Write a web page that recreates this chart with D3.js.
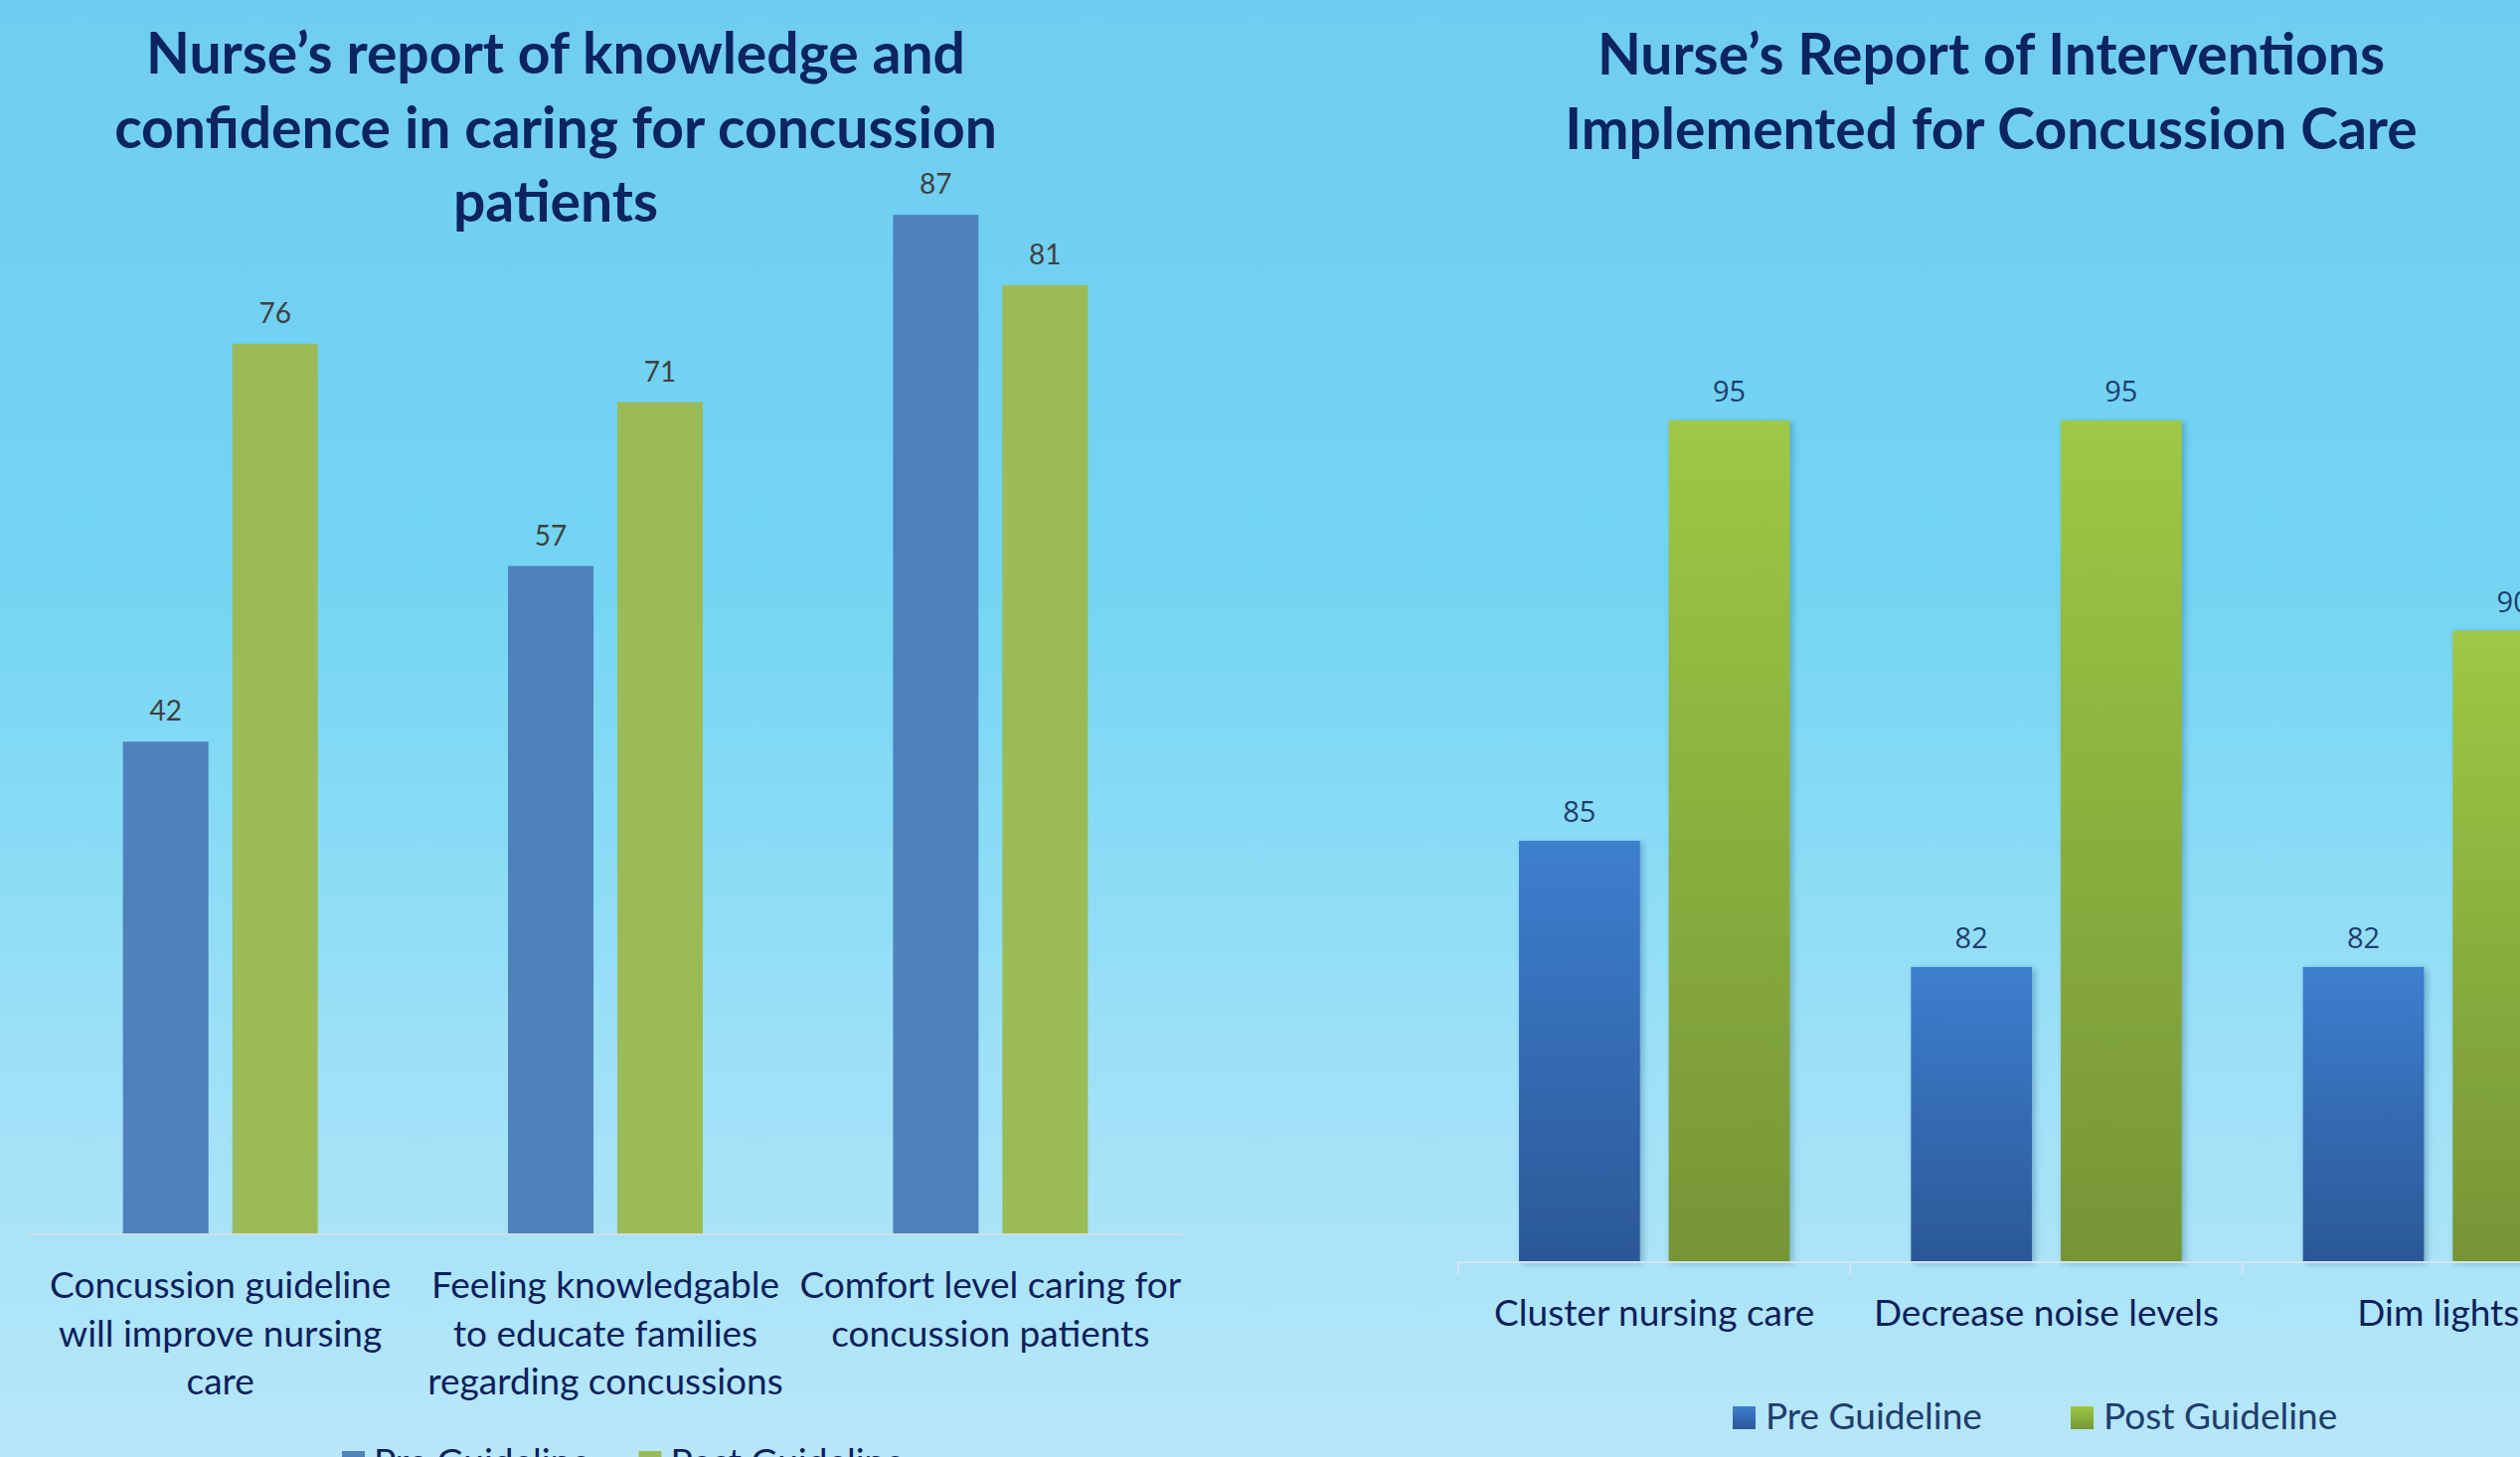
<!DOCTYPE html>
<html>
<head>
<meta charset="utf-8">
<script src="https://cdn.jsdelivr.net/npm/d3@7"></script>
<style>
  body { margin: 0; overflow: hidden; }
  svg { display: block; }
</style>
</head>
<body>
<div id="chart"></div>
<script>
var width = 2535, height = 1466;

// series
var seriesNames = ["Pre Guideline", "Post Guideline"];

// left chart: knowledge and confidence
var knowTitle = ["Nurse\u2019s report of knowledge and", "confidence in caring for concussion", "patients"];
var knowCats = ["Concussion guideline will improve nursing care",
                "Feeling knowledgable to educate families regarding concussions",
                "Comfort level caring for concussion patients"];
var knowCatLines = [["Concussion guideline", "will improve nursing", "care"],
                    ["Feeling knowledgable", "to educate families", "regarding concussions"],
                    ["Comfort level caring for", "concussion patients"]];
var knowPre = [42, 57, 87];
var knowPost = [76, 71, 81];

// right chart: interventions
var intTitle = ["Nurse\u2019s Report of Interventions", "Implemented for Concussion Care"];
var intCats = ["Cluster nursing care", "Decrease noise levels", "Dim lights"];
var intPre = [85, 82, 82];
var intPost = [95, 95, 90];

var svg = d3.select("#chart").append("svg")
  .attr("width", width)
  .attr("height", height);

var defs = svg.append("defs");

// sky background
var bg = defs.append("linearGradient").attr("id", "bg")
  .attr("x1", 0).attr("y1", 0).attr("x2", 0).attr("y2", 1);
bg.append("stop").attr("offset", "0%").attr("stop-color", "#70cdf1");
bg.append("stop").attr("offset", "40%").attr("stop-color", "#73d5f3");
bg.append("stop").attr("offset", "55%").attr("stop-color", "#86dbf5");
bg.append("stop").attr("offset", "75%").attr("stop-color", "#a0e1f7");
bg.append("stop").attr("offset", "100%").attr("stop-color", "#b7e7f8");

var gPre = defs.append("linearGradient").attr("id", "gPre")
  .attr("x1", 0).attr("y1", 0).attr("x2", 0).attr("y2", 1);
gPre.append("stop").attr("offset", "0%").attr("stop-color", "#3d7fcf");
gPre.append("stop").attr("offset", "100%").attr("stop-color", "#2b5896");

var gPost = defs.append("linearGradient").attr("id", "gPost")
  .attr("x1", 0).attr("y1", 0).attr("x2", 0).attr("y2", 1);
gPost.append("stop").attr("offset", "0%").attr("stop-color", "#9ec845");
gPost.append("stop").attr("offset", "100%").attr("stop-color", "#769536");

var shadow = defs.append("filter").attr("id", "shadow")
  .attr("x", "-10%").attr("y", "-10%").attr("width", "130%").attr("height", "130%");
shadow.append("feDropShadow")
  .attr("dx", 3).attr("dy", 2).attr("stdDeviation", 3)
  .attr("flood-color", "#1a4a70").attr("flood-opacity", 0.35);

svg.append("rect")
  .attr("width", width)
  .attr("height", height)
  .attr("fill", "url(#bg)");

var titleFont = "Lato, 'Open Sans', sans-serif";

// ---------- left chart ----------
var left = svg.append("g");

var x0L = d3.scaleBand().domain(knowCats).range([28, 1190]);
var x1L = d3.scaleBand().domain(seriesNames).range([0, x0L.bandwidth()])
  .paddingInner(0.218).paddingOuter(0.87);
var yL = d3.scaleLinear().domain([0, 100]).range([1241, 63]);

left.selectAll(".ttl").data(knowTitle).enter().append("text")
  .attr("x", 559)
  .attr("y", function(d, i) { return 74 + i * 74.5; })
  .attr("text-anchor", "middle")
  .style("font-family", titleFont)
  .style("font-weight", 700)
  .style("font-size", "57px")
  .attr("fill", "#0c2460")
  .text(function(d) { return d; });

var groupsL = left.selectAll(".grp").data(knowCats).enter().append("g")
  .attr("transform", function(d) { return "translate(" + x0L(d) + ",0)"; });

groupsL.each(function(c, i) {
  var vals = [knowPre[i], knowPost[i]];
  var g = d3.select(this);
  g.selectAll("rect").data(seriesNames).enter().append("rect")
    .attr("x", function(s) { return x1L(s); })
    .attr("y", function(s, j) { return yL(vals[j]); })
    .attr("width", x1L.bandwidth())
    .attr("height", function(s, j) { return yL(0) - yL(vals[j]); })
    .attr("fill", function(s, j) { return j == 0 ? "#4f81bd" : "#9bbb59"; });
  g.selectAll(".val").data(seriesNames).enter().append("text")
    .attr("x", function(s) { return x1L(s) + x1L.bandwidth() / 2; })
    .attr("y", function(s, j) { return yL(vals[j]) - 21; })
    .attr("text-anchor", "middle")
    .style("font-family", titleFont)
    .style("font-size", "28px")
    .attr("fill", "#404040")
    .text(function(s, j) { return vals[j]; });
  g.selectAll(".cat").data(knowCatLines[i]).enter().append("text")
    .attr("x", x0L.bandwidth() / 2)
    .attr("y", function(d, k) { return 1306 + k * 48.5; })
    .attr("text-anchor", "middle")
    .style("font-family", titleFont)
    .style("font-size", "37px")
    .attr("fill", "#0d1f5c")
    .text(function(d) { return d; });
});

left.append("line")
  .attr("x1", x0L.range()[0]).attr("x2", x0L.range()[1])
  .attr("y1", yL(0) + 1).attr("y2", yL(0) + 1)
  .attr("stroke", "#d3dde5")
  .attr("stroke-width", 2);

// left legend (runs off the bottom edge, as in the original)
var legL = left.selectAll(".leg").data(seriesNames).enter().append("g")
  .attr("transform", function(d, i) { return "translate(" + (344 + i * 298.5) + ",1460)"; });
legL.append("rect")
  .attr("width", 23).attr("height", 23)
  .attr("fill", function(d, i) { return i == 0 ? "#4f81bd" : "#9bbb59"; });
legL.append("text")
  .attr("x", 32).attr("y", 24)
  .style("font-family", titleFont)
  .style("font-size", "37px")
  .attr("fill", "#0d1f5c")
  .text(function(d) { return d; });

// ---------- right chart ----------
var right = svg.append("g");

var x0R = d3.scaleBand().domain(intCats).range([1467, 2650]);
var x1R = d3.scaleBand().domain(seriesNames).range([0, x0R.bandwidth()])
  .paddingInner(0.192).paddingOuter(0.405);
var yR = d3.scaleLinear().domain([75, 100]).range([1269, 211.5]);

right.selectAll(".ttl").data(intTitle).enter().append("text")
  .attr("x", 2003)
  .attr("y", function(d, i) { return 75 + i * 75; })
  .attr("text-anchor", "middle")
  .style("font-family", titleFont)
  .style("font-weight", 700)
  .style("font-size", "57px")
  .attr("fill", "#0c2460")
  .text(function(d) { return d; });

var groupsR = right.selectAll(".grp").data(intCats).enter().append("g")
  .attr("transform", function(d) { return "translate(" + x0R(d) + ",0)"; });

groupsR.each(function(c, i) {
  var vals = [intPre[i], intPost[i]];
  var g = d3.select(this);
  g.selectAll("rect").data(seriesNames).enter().append("rect")
    .attr("x", function(s) { return x1R(s); })
    .attr("y", function(s, j) { return yR(vals[j]); })
    .attr("width", x1R.bandwidth())
    .attr("height", function(s, j) { return yR(75) - yR(vals[j]); })
    .attr("fill", function(s, j) { return j == 0 ? "url(#gPre)" : "url(#gPost)"; })
    .attr("filter", "url(#shadow)");
  g.selectAll(".val").data(seriesNames).enter().append("text")
    .attr("x", function(s) { return x1R(s) + x1R.bandwidth() / 2; })
    .attr("y", function(s, j) { return yR(vals[j]) - 19; })
    .attr("text-anchor", "middle")
    .style("font-family", "'Open Sans', sans-serif")
    .style("font-size", "29px")
    .attr("fill", "#1f3d6d")
    .text(function(s, j) { return vals[j]; });
  g.append("text")
    .attr("x", x0R.bandwidth() / 2)
    .attr("y", 1334)
    .attr("text-anchor", "middle")
    .style("font-family", titleFont)
    .style("font-size", "37px")
    .attr("fill", "#0d1f5c")
    .text(c);
});

// axis line with category separators
right.append("line")
  .attr("x1", x0R.range()[0]).attr("x2", x0R.range()[1])
  .attr("y1", yR(75) + 1).attr("y2", yR(75) + 1)
  .attr("stroke", "#d6e6ef")
  .attr("stroke-width", 2);
right.selectAll(".tick").data(intCats).enter().append("line")
  .attr("x1", function(d) { return x0R(d); })
  .attr("x2", function(d) { return x0R(d); })
  .attr("y1", yR(75) + 1).attr("y2", yR(75) + 13)
  .attr("stroke", "#d6e6ef")
  .attr("stroke-width", 2);

var legR = right.selectAll(".leg").data(seriesNames).enter().append("g")
  .attr("transform", function(d, i) { return "translate(" + (1743 + i * 340) + ",1415)"; });
legR.append("rect")
  .attr("width", 23).attr("height", 23)
  .attr("fill", function(d, i) { return i == 0 ? "url(#gPre)" : "url(#gPost)"; });
legR.append("text")
  .attr("x", 33).attr("y", 23)
  .style("font-family", titleFont)
  .style("font-size", "37px")
  .attr("fill", "#1f3d6d")
  .text(function(d) { return d; });
</script>
</body>
</html>
